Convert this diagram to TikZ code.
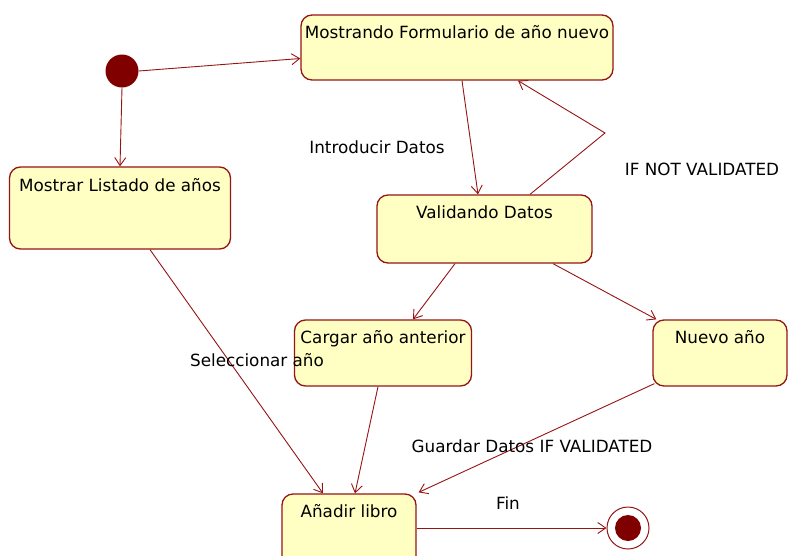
\documentclass[tikz,border=0pt]{standalone}
\usepackage{fontspec}
\setmainfont{DejaVu Sans}
\usetikzlibrary{arrows.meta, calc}
\definecolor{statered}{RGB}{150,20,20}
\definecolor{stateyellow}{RGB}{255,255,196}
\definecolor{dotred}{RGB}{128,0,0}

\begin{document}
\begin{tikzpicture}[x=1pt, y=-1pt, >={Straight Barb[length=8pt,width=11pt]},
  font=\fontsize{16.8}{19}\selectfont,
  state/.style={draw=statered, fill=stateyellow, line width=1.3pt, rounded corners=11pt},
  trans/.style={->, statered, line width=0.9pt}]
  \useasboundingbox (0,0) rectangle (788,555);
  \clip (0,0) rectangle (788,555);

  % Pseudo states
  \node[circle, fill=dotred, minimum size=33pt, inner sep=0pt] (init) at (122,71) {};
  \node[circle, draw=statered, line width=1pt, minimum size=42pt, inner sep=0pt] (fin) at (628,528) {};
  \node[circle, fill=dotred, minimum size=26pt, inner sep=0pt] (findot) at (fin) {};

  % States
  \node[state, minimum width=312pt, minimum height=65pt] (form) at (457,47.5) {};
  \node[state, minimum width=221pt, minimum height=82pt] (listado) at (120,208) {};
  \node[state, minimum width=215pt, minimum height=68pt] (valid) at (484.5,229) {};
  \node[state, minimum width=177pt, minimum height=66pt] (cargar) at (383,353) {};
  \node[state, minimum width=134pt, minimum height=66pt] (nuevo) at (720,353) {};
  \node[state, minimum width=134pt, minimum height=80pt] (anadir) at (349,534) {};

  % State names
  \node (formtxt) at ([yshift=-18pt]form.north) {Mostrando Formulario de año nuevo};
  \node (listadotxt) at ([yshift=-19pt]listado.north) {Mostrar Listado de años};
  \node (validtxt) at ([yshift=-18pt]valid.north) {Validando Datos};
  \node (cargartxt) at ([yshift=-19pt]cargar.north) {Cargar año anterior};
  \node (nuevotxt) at ([yshift=-18pt]nuevo.north) {Nuevo año};
  \node (anadirtxt) at ([yshift=-18pt]anadir.north) {Añadir libro};

  % Transitions
  \draw[trans] (init.east) -- ([yshift=-11pt]form.west);
  \draw[trans] (init.south) -- (listado.north);
  \draw[trans] ([xshift=5pt]form.south) -- ([xshift=-6.5pt]valid.north);
  \coordinate (bend) at (605,133);
  \draw[trans] ([xshift=45.5pt]valid.north) -- (bend) -- ([xshift=61pt]form.south);
  \draw[trans] ([xshift=-29.5pt]valid.south) -- ([xshift=30pt]cargar.north);
  \draw[trans] ([xshift=68.5pt]valid.south) -- ([xshift=4pt]nuevo.north west);
  \draw[trans] ([xshift=30pt]listado.south) -- ([xshift=-26pt]anadir.north);
  \draw[trans] ([xshift=-5pt]cargar.south) -- ([xshift=6pt]anadir.north);
  \draw[trans] ([xshift=2pt,yshift=3pt]nuevo.south west) -- ([xshift=2pt,yshift=1pt]anadir.north east);
  \draw[trans] (anadir.east |- fin) -- (fin.west);

  % Transition labels
  \node (introlbl) at (377,147) {Introducir Datos};
  \node (notlbl) at (702,169) {IF NOT VALIDATED};
  \node (sellbl) at (257,360) {Seleccionar año};
  \node (guardlbl) at (532,446) {Guardar Datos IF VALIDATED};
  \node (finlbl) at (508,503) {Fin};
\end{tikzpicture}
\end{document}
